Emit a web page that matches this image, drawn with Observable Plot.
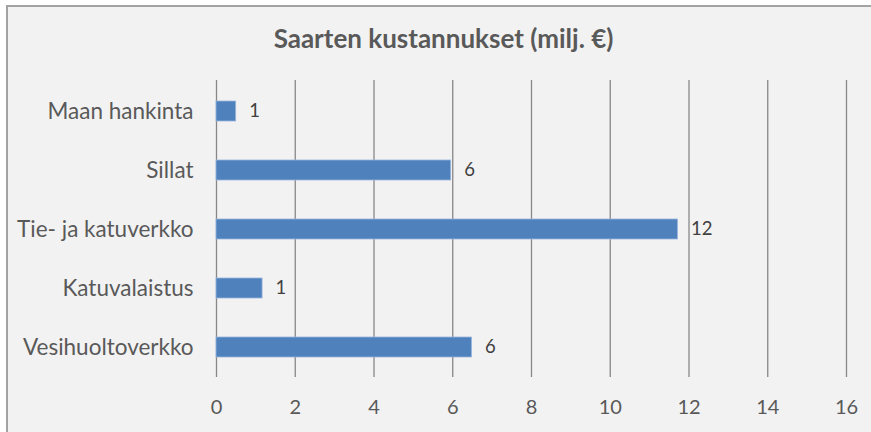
<!DOCTYPE html>
<html><head><meta charset="utf-8">
<script src="https://cdn.jsdelivr.net/npm/d3@7"></script>
<script src="https://cdn.jsdelivr.net/npm/@observablehq/plot@0.6"></script>
<style>
html,body{margin:0;padding:0;background:#fff;}
#wrap{position:relative;width:871px;height:432px;overflow:hidden;}
#panel{position:absolute;left:6px;top:5px;width:871px;height:432px;background:#f2f2f2;border-top:2px solid #a3a3a3;border-left:2px solid #a3a3a3;}
#chart{position:absolute;left:0;top:0;}
</style></head><body>
<div id="wrap"><div id="panel"></div><div id="chart"></div></div>
<script>
const title = "Saarten kustannukset (milj. €)";
const categories = ["Maan hankinta", "Sillat", "Tie- ja katuverkko", "Katuvalaistus", "Vesihuoltoverkko"];
const values = [0.5, 5.96, 11.72, 1.17, 6.49];
const xTicks = [0, 2, 4, 6, 8, 10, 12, 14, 16];

const data = categories.map((c, i) => ({category: c, value: values[i]}));

const chart = Plot.plot({
  width: 871,
  height: 432,
  marginLeft: 216,
  marginRight: 25,
  marginTop: 80,
  marginBottom: 55,
  style: {background: "transparent", fontFamily: "Lato, sans-serif", color: "#595959"},
  x: {domain: [0, 16], ticks: xTicks},
  y: {domain: categories, paddingInner: 0.663, paddingOuter: 0.33},
  marks: [
    Plot.gridX(xTicks, {stroke: "#878787", strokeOpacity: 1, strokeWidth: 1.3}),
    Plot.barX(data, {x: "value", y: "category", fill: "#4f81bd", stroke: "#9ab7dc", strokeWidth: 0.8}),
    Plot.text(data, {x: "value", y: "category", text: d => String(Math.round(d.value)), dx: 13, textAnchor: "start", fontSize: 18.5, fill: "#404040"}),
    Plot.axisX({ticks: xTicks, tickSize: 0, tickPadding: 22, fontSize: 20, fill: "#595959", label: null}),
    Plot.axisY({tickSize: 0, tickPadding: 23, fontSize: 22.5, fill: "#595959", label: null}),
    Plot.text([title], {frameAnchor: "top-left", dx: 227, dy: -41, textAnchor: "middle", lineAnchor: "middle", fontSize: 26, fontWeight: "bold", fill: "#595959"})
  ]
});
document.getElementById("chart").appendChild(chart);
</script>
</body></html>
